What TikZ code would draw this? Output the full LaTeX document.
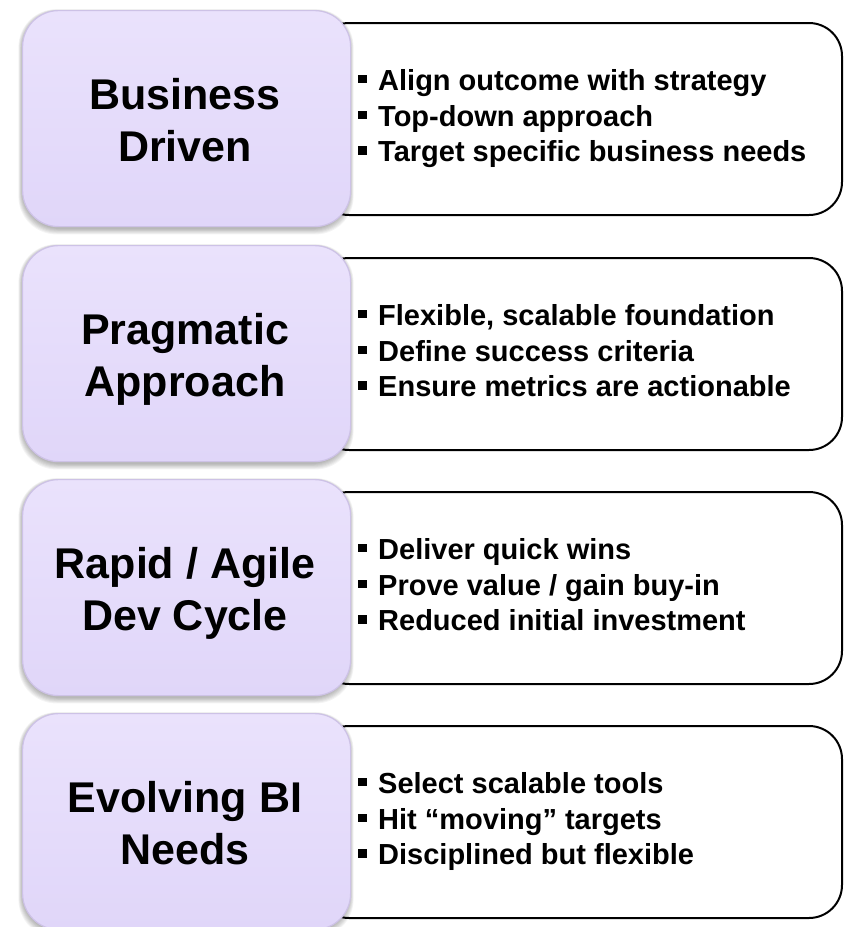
\documentclass[tikz,border=0pt]{standalone}
\usepackage{fontspec}
\setmainfont{Liberation Sans}
\definecolor{ptop}{RGB}{234,226,252}
\definecolor{pbot}{RGB}{224,214,249}
\definecolor{pedge}{RGB}{205,194,230}
\tikzset{
  whitebox/.style={rectangle, rounded corners=33pt, minimum width=526pt, minimum height=192pt,
    inner sep=0pt, draw=black, line width=2pt, fill=white},
  purplebox/.style={rectangle, rounded corners=36pt, minimum width=328pt, minimum height=216pt,
    inner sep=0pt, draw=pedge, line width=1.2pt, top color=ptop, bottom color=pbot},
  headtext/.style={font=\fontsize{43}{52}\selectfont\bfseries, align=center, inner sep=0pt},
  bullettext/.style={font=\fontsize{29}{35.7}\selectfont\bfseries, align=left, inner sep=0pt, anchor=west},
}
\newcommand\bul{\strut\makebox[20pt][l]{\rule[7pt]{8.5pt}{8.5pt}}}
\newcommand\Block[7]{%
  \node[whitebox, anchor=north east] (w#1) at (843,#2+12) {};
  \foreach \k in {0,...,6}{%
    \fill[black, opacity=0.045, rounded corners=38pt]
      (22-\k*0.6, #2+1-\k*0.3) rectangle (350+\k*0.6, #2+219+\k*0.9);}
  \node[purplebox, anchor=north west] (p#1) at (22,#2) {};
  \node[headtext] (h#1) at (185,#2+115.5) {\strut #3\\\strut #4};
  \node[bullettext] (b#1) at (358,#2+109) {\bul #5\\\bul #6\\\bul #7};
}
\begin{document}
\begin{tikzpicture}[x=1pt,y=-1pt]
\useasboundingbox[fill=white] (0,0) rectangle (846,927);
\Block{1}{10}{Business}{Driven}{Align outcome with strategy}{Top-down approach}{Target specific business needs}
\Block{2}{245}{Pragmatic}{Approach}{Flexible, scalable foundation}{Define success criteria}{Ensure metrics are actionable}
\Block{3}{479}{Rapid / Agile}{Dev Cycle}{Deliver quick wins}{Prove value / gain buy-in}{Reduced initial investment}
\Block{4}{713}{Evolving BI}{Needs}{Select scalable tools}{Hit “moving” targets}{Disciplined but flexible}
\end{tikzpicture}
\end{document}
